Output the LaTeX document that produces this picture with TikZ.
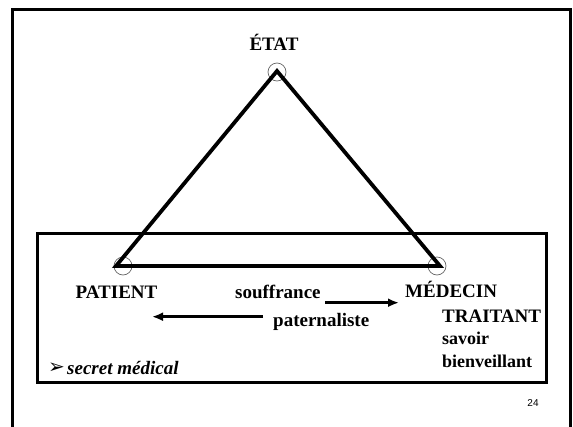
\documentclass[tikz,border=0pt]{standalone}
\usepackage{fontspec}
\setmainfont{Liberation Serif}
\setsansfont{Liberation Sans}
\newfontfamily\dingfont{DejaVu Sans}
\usetikzlibrary{arrows.meta}
\tikzset{
  frame/.style={line width=3pt},
  tri/.style={line width=3.8pt, line join=miter},
  vertexmark/.style={circle, draw=black!60, line width=0.7pt, minimum size=18pt, inner sep=0pt},
  label/.style={font=\fontsize{19}{22}\selectfont\bfseries, inner sep=0pt},
  sublabel/.style={font=\fontsize{18}{21}\selectfont\bfseries, inner sep=0pt},
  flow/.style={line width=2.5pt, -{Latex[length=11pt,width=9pt]}},
}
\begin{document}
\begin{tikzpicture}[x=1pt, y=-1pt]
\useasboundingbox (0,0) rectangle (573,426);
% slide frame, open at the bottom
\draw[frame] (12,430) -- (12,9) -- (570,9) -- (570,430);
% lower box
\draw[frame] (37,233) rectangle (546,382);
% vertices of the triangle
\coordinate (A) at (277,71);
\coordinate (B) at (116,266);
\coordinate (C) at (440,266);
\node[vertexmark] (ca) at (277,72) {};
\node[vertexmark] (cb) at (123,266) {};
\node[vertexmark] (cc) at (437,266) {};
\draw[tri] (A) -- (B) -- (C) -- cycle;
% labels
\node[label, anchor=base] (etat) at (274,50) {ÉTAT};
\node[label, anchor=base] (patient) at (116.5,298) {PATIENT};
\node[label, anchor=base west] (souf) at (235,298) {souffrance};
\node[label, anchor=base west] (med) at (405,297) {MÉDECIN};
\node[label, anchor=base west] (pat) at (273,326) {paternaliste};
\node[label, anchor=base west] (trait) at (442,322) {TRAITANT};
\node[sublabel, anchor=base west] (sav) at (442,344) {savoir};
\node[sublabel, anchor=base west] (bien) at (442,367) {bienveillant};
\node[font=\dingfont\fontsize{20}{22}\selectfont, inner sep=0pt, anchor=base west] (bullet) at (48,373) {➢};
\node[label, anchor=base west] (secret) at (67,374) {\textit{secret médical}};
\node[font=\sffamily\fontsize{10}{12}\selectfont, inner sep=0pt] (num) at (533,403) {24};
% flows
\coordinate (r1) at (325,302.7);
\coordinate (r2) at (399,302.7);
\coordinate (l1) at (263,316.7);
\coordinate (l2) at (152,316.7);
\draw[flow] (r1) -- (r2);
\draw[flow] (l1) -- (l2);
\end{tikzpicture}
\end{document}
